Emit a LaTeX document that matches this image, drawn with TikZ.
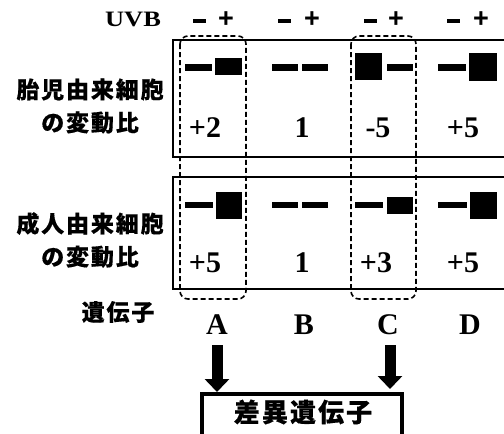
\documentclass[tikz,border=0pt]{standalone}
\usepackage{fontspec}
\setmainfont{Liberation Serif}
\newfontfamily\jp{Noto Sans CJK JP}[LetterSpace=8, BoldFeatures={FakeBold=0.35}]
\newfontfamily\hdr{Liberation Sans}
\usetikzlibrary{arrows.meta}
\begin{document}
\begin{tikzpicture}[x=1pt,y=-1pt,
  jplab/.style={font=\jp\bfseries\fontsize{23}{33}\selectfont, inner sep=0pt, align=center},
  num/.style={font=\bfseries\fontsize{30}{32}\selectfont, inner sep=0pt},
  pm/.style={font=\hdr\bfseries\fontsize{27}{29}\selectfont, inner sep=0pt},
  frame/.style={draw, line width=2pt},
  dbox/.style={draw, dash pattern=on 5pt off 3pt, line width=1.6pt, rounded corners=8pt},
  bigarrow/.style={line width=11pt, -{Triangle[width=24pt,length=13pt]}}]
\useasboundingbox (0,0) rectangle (504,434);
% frames
\draw[frame] (512,40) -- (173,40) -- (173,157) -- (512,157);
\draw[frame] (512,177) -- (173,177) -- (173,289) -- (512,289);
% dashed selection boxes
\draw[dbox] (180,36) rectangle (246,299);
\draw[dbox] (351,36) rectangle (416,299);
% header
\node[font=\bfseries\fontsize{22}{24}\selectfont, inner sep=0pt, xscale=1.2] (uvb) at (133,19) {UVB};
\foreach \x/\n in {199/a,284/b,370/c,453/d} {\fill (\x-6.5,18.5) rectangle (\x+6.5,22.5);}
\foreach \x/\n in {226/a,312/b,396/c,481/d} {\node[pm] (p\n) at (\x,20) {+};}
% row labels
\node[jplab] (lab1) at (90,106) {胎児由来細胞\\の変動比};
\node[jplab] (lab2) at (90,240) {成人由来細胞\\の変動比};
\node[jplab] (lab3) at (118,312) {遺伝子};
% bands row 1
\fill (185,64) rectangle (212,71);
\fill (215,58) rectangle (242,75);
\fill (272,64) rectangle (298,71);
\fill (302,64) rectangle (328,71);
\fill (355,53) rectangle (382,80);
\fill (387,64) rectangle (413,71);
\fill (438,64) rectangle (466,71);
\fill (469,53) rectangle (497,81);
% bands row 2
\fill (185,202) rectangle (213,208);
\fill (216,192) rectangle (242,219);
\fill (272,202) rectangle (298,208);
\fill (302,202) rectangle (328,208);
\fill (355,202) rectangle (383,208);
\fill (387,197) rectangle (413,214);
\fill (438,202) rectangle (467,208);
\fill (470,192) rectangle (497,219);
% numbers
\node[num] (n1a) at (205,128) {+2};
\node[num] (n1b) at (302,128) {1};
\node[num] (n1c) at (378,128) {-5};
\node[num] (n1d) at (463,128) {+5};
\node[num] (n2a) at (205,263) {+5};
\node[num] (n2b) at (302,263) {1};
\node[num] (n2c) at (376,263) {+3};
\node[num] (n2d) at (463,263) {+5};
% genes
\node[num] (A) at (217,325) {A};
\node[num] (B) at (304,325) {B};
\node[num] (C) at (388,325) {C};
\node[num] (D) at (470,325) {D};
% result box
\node[draw, line width=4pt, minimum width=200pt, minimum height=50pt, anchor=north, inner sep=0pt] (res) at (302,392) {};
\node[inner sep=0pt, font=\jp\bfseries\fontsize{26}{28}\selectfont] (restxt) at (303,412) {差異遺伝子};
% arrows
\draw[bigarrow] ([yshift=-10pt]A.south) -- (A.south |- res.north);
\draw[bigarrow] ([yshift=-10pt]C.south -| 390,0) -- (390,389);
\end{tikzpicture}
\end{document}
